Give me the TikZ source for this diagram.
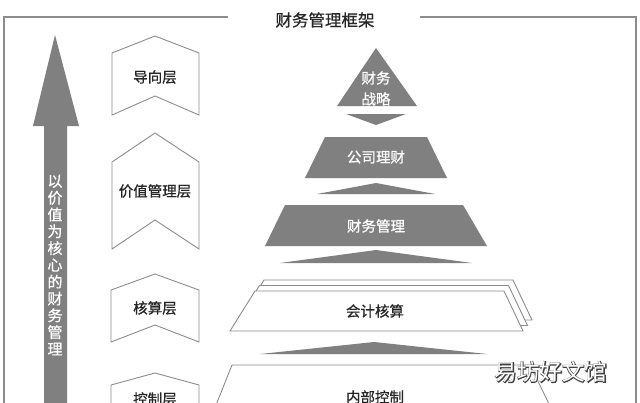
\documentclass[tikz,border=0pt]{standalone}
\usepackage{fontspec}
\setmainfont{Noto Sans CJK SC}
\newfontfamily\cjkb{Noto Sans CJK SC}[FakeBold=0.7]
\newfontfamily\cjkwm{Noto Sans CJK SC}[FakeBold=6]
\definecolor{pyr}{HTML}{808080}
\definecolor{edge}{HTML}{8C8C8C}
\definecolor{ink}{HTML}{262626}
\definecolor{wm}{HTML}{404040}
\begin{document}
\begin{tikzpicture}[x=1pt,y=-1pt,
  frame/.style={draw=edge,line width=1.4pt},
  chev/.style={draw=edge,line width=0.9pt,fill=white,line join=miter},
  solid/.style={fill=pyr,draw=none},
  layer/.style={draw=edge,line width=0.9pt,fill=white},
  lbl/.style={font=\cjkb\fontsize{14.5}{16}\selectfont,text=ink,inner sep=0pt},
  wlbl/.style={font=\cjkb\fontsize{14.5}{16}\selectfont,text=white,inner sep=0pt},
]
\useasboundingbox (0,0) rectangle (640,402);
\clip (0,0) rectangle (640,402);
% frame
\draw[frame] (4,410) -- (4,17) -- (228,17);
\draw[frame] (420,17) -- (636,17) -- (636,410);
\node[font=\cjkb\fontsize{16.5}{18}\selectfont,text=ink,inner sep=0pt] (title) at (325,20) {财务管理框架};
% big arrow
\fill[pyr] (44,410) -- (44,126) -- (33,126) -- (55,35) -- (79,126) -- (67,126) -- (67,410) -- cycle;
\node[font=\cjkb\fontsize{15}{16.8}\selectfont,text=white,align=center,inner sep=0pt] (arrowtext) at (55,265)
  {以\\价\\值\\为\\核\\心\\的\\财\\务\\管\\理};
% chevrons
\draw[chev] (112,53) -- (155,36) -- (199,53) -- (199,115) -- (155,96) -- (112,115) -- cycle;
\node[lbl] (l1) at (155,77) {导向层};
\draw[chev] (112,162) -- (155,133) -- (199,162) -- (199,249) -- (155,220) -- (112,249) -- cycle;
\node[lbl] (l2) at (155,191) {价值管理层};
\draw[chev] (111,290) -- (155,274) -- (199,290) -- (199,342) -- (155,325) -- (111,342) -- cycle;
\node[lbl] (l3) at (155,308) {核算层};
\draw[chev] (111,385) -- (155,373) -- (199,385) -- (199,420) -- (111,420) -- cycle;
\node[lbl] (l4) at (155,399) {控制层};
% pyramid
\fill[solid] (337,106) -- (376,48) -- (417,106) -- cycle;
\node[wlbl,align=center,font=\cjkb\fontsize{14.5}{21}\selectfont] (p1) at (376,88.5) {财务\\战略};
\fill[solid] (346,114) -- (406,114) -- (376,125) -- cycle;
\fill[solid] (325,137) -- (427,137) -- (447,178) -- (305,178) -- cycle;
\node[wlbl] (p2) at (376,157) {公司理财};
\fill[solid] (317,194) -- (376,183) -- (435,194) -- cycle;
\fill[solid] (285,205) -- (463,205) -- (487,246) -- (265,246) -- cycle;
\node[wlbl] (p3) at (376,226) {财务管理};
\fill[solid] (280,263) -- (376,250) -- (472,263) -- cycle;
% accounting stack
\draw[layer] (264,280) -- (513,280) -- (532,320) -- (239,320) -- cycle;
\draw[layer] (259.5,285.5) -- (508.5,285.5) -- (527.5,325.5) -- (234.5,325.5) -- cycle;
\draw[layer] (255,291) -- (504,291) -- (523,331) -- (230,331) -- cycle;
\node[lbl] (p4) at (375,311) {会计核算};
\fill[solid] (260,354) -- (374,342) -- (487,354) -- cycle;
\draw[layer] (232,365) -- (530,365) -- (552,410) -- (214,410) -- cycle;
\node[lbl] (p5) at (375,397) {内部控制};
% watermark
\node[font=\cjkwm\fontsize{22.5}{24}\selectfont,text=wm,inner sep=0pt] (wmshadow) at (551,372) {易坊好文馆};
\node[font=\fontsize{22.5}{24}\selectfont,text=white,inner sep=0pt] (wmark) at (551,372) {易坊好文馆};
\end{tikzpicture}
\end{document}
